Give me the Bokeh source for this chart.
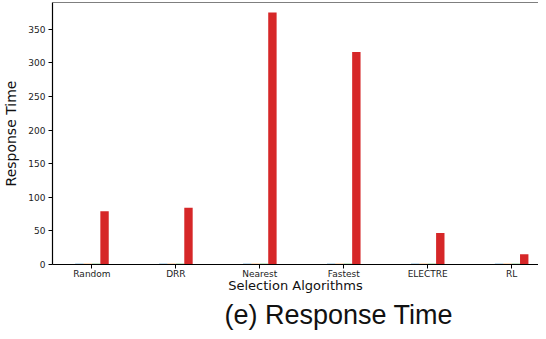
from bokeh.plotting import figure
from bokeh.models import FixedTicker, Range1d, Span, Title
from bokeh.embed import file_html
from bokeh.resources import INLINE

categories = ["Random", "DRR", "Nearest", "Fastest", "ELECTRE", "RL"]
series_names = ["S1", "S2", "S3", "S4"]
series_values = [
    [1.0, 1.0, 1.0, 1.0, 1.0, 1.0],
    [1.0, 1.0, 1.0, 1.0, 1.0, 1.0],
    [1.0, 1.0, 1.0, 1.0, 1.0, 1.0],
    [79.4, 84.3, 375.0, 316.5, 47.0, 15.3],
]
series_colors = ["#1f77b4", "#ff7f0e", "#2ca02c", "#d62728"]
y_ticks = [0, 50, 100, 150, 200, 250, 300, 350]
caption = "(e) Response Time"

bar_w = 0.1
offsets = [-1.5 * bar_w, -0.5 * bar_w, 0.5 * bar_w, 1.5 * bar_w]
y_top = 390

p = figure(width=538, height=332, output_backend="svg", toolbar_location=None,
           x_range=Range1d(-0.47, 5.32), y_range=Range1d(0, y_top),
           min_border_left=38, min_border_right=0, min_border_top=2, min_border_bottom=0)

xs = list(range(len(categories)))
for vals, col, off in zip(series_values, series_colors, offsets):
    p.vbar(x=[x + off for x in xs], top=vals, width=bar_w, bottom=0,
           fill_color=col, line_color=col, line_width=0)

p.xgrid.visible = False
p.ygrid.visible = False
p.outline_line_color = None
p.add_layout(Span(location=y_top, dimension="width", line_color="black", line_width=1.2))

p.xaxis.ticker = FixedTicker(ticks=xs)
p.xaxis.major_label_overrides = {i: c for i, c in enumerate(categories)}
p.yaxis.ticker = FixedTicker(ticks=y_ticks)

for ax in (p.xaxis[0], p.yaxis[0]):
    ax.axis_line_color = "black"
    ax.axis_line_width = 1.2
    ax.major_tick_line_color = "black"
    ax.major_tick_out = 4
    ax.major_tick_in = 0
    ax.minor_tick_line_color = None
    ax.major_label_text_font = "DejaVu Sans"
    ax.major_label_text_font_size = "9px"
    ax.major_label_text_color = "#222222"
    ax.axis_label_text_font = "DejaVu Sans"
    ax.axis_label_text_font_size = "13px"
    ax.axis_label_text_font_style = "normal"
    ax.axis_label_text_color = "#111111"

p.xaxis.axis_label = "Selection Algorithms"
p.yaxis.axis_label = "Response Time"
p.yaxis.axis_label_text_font_size = "14px"
p.xaxis.major_label_standoff = 0
p.xaxis.axis_label_standoff = -4
p.yaxis.major_label_standoff = 3
p.yaxis.axis_label_standoff = 6

t = Title(text=caption, align="left", offset=172,
          text_font="Liberation Sans", text_font_size="27px",
          text_font_style="normal", text_color="#111111", standoff=5)
p.add_layout(t, "below")

open("out.html", "w").write(file_html(p, INLINE))
